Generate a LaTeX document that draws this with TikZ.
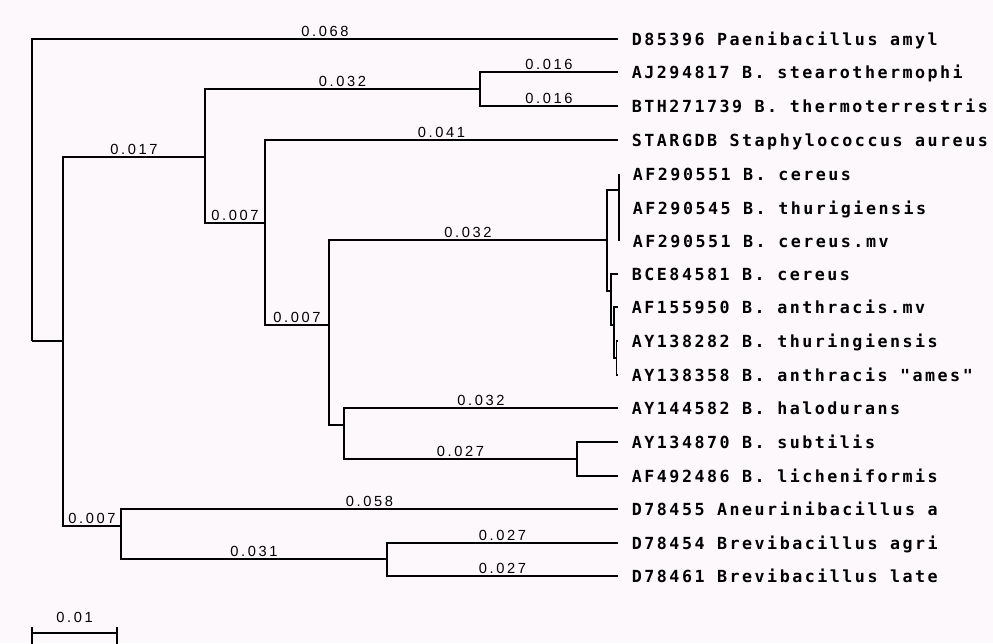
\documentclass[tikz,border=0pt]{standalone}
\usepackage{fontspec}
\setmainfont{Liberation Sans}
\newfontfamily\taxfont{DejaVu Sans Mono Bold}[LetterSpace=15]
\newfontfamily\lenfont{Liberation Sans}[LetterSpace=18]
\definecolor{paper}{RGB}{252,248,252}

\begin{document}
\begin{tikzpicture}[x=0.75pt,y=-0.75pt,line width=1.2pt,
  taxon/.style={anchor=west,inner xsep=9.8pt,inner ysep=0pt,text height=9.1pt,text depth=0pt,
    font={\taxfont\fontsize{12.5}{14}\selectfont}},
  brlen/.style={pos=0.75,above,inner sep=1.5pt,font={\lenfont\fontsize{11}{12}\selectfont}}]
  \path[use as bounding box,fill=paper] (0,0) rectangle (993,643);

  % inner nodes of the tree
  \coordinate (root) at (32,341);
  \coordinate (n1) at (63,341);
  \coordinate (n2) at (205,157);
  \coordinate (n3) at (480,89);
  \coordinate (n4) at (265,223);
  \coordinate (n5) at (329,325);
  \coordinate (n6) at (607,240);
  \coordinate (n7) at (619,190);
  \coordinate (n8) at (611,291);
  \coordinate (n9) at (614,325);
  \coordinate (n10) at (616.5,358);
  \coordinate (n11) at (344,425);
  \coordinate (n12) at (577,459);
  \coordinate (n13) at (121,526);
  \coordinate (n14) at (387,559);

  % taxa
  \node[taxon] (t1) at (618,39) {D85396 Paenibacillus amyl};
  \node[taxon] (t2) at (618,72) {AJ294817 B. stearothermophi};
  \node[taxon] (t3) at (618,106) {BTH271739 B. thermoterrestris};
  \node[taxon] (t4) at (618,140) {STARGDB Staphylococcus aureus};
  \node[taxon] (t5) at (619,174) {AF290551 B. cereus};
  \node[taxon] (t6) at (619,208) {AF290545 B. thurigiensis};
  \node[taxon] (t7) at (619,241) {AF290551 B. cereus.mv};
  \node[taxon] (t8) at (618,274) {BCE84581 B. cereus};
  \node[taxon] (t9) at (618,307) {AF155950 B. anthracis.mv};
  \node[taxon] (t10) at (618,341) {AY138282 B. thuringiensis};
  \node[taxon] (t11) at (618,375) {AY138358 B. anthracis "ames"};
  \node[taxon] (t12) at (618,408) {AY144582 B. halodurans};
  \node[taxon] (t13) at (618,442) {AY134870 B. subtilis};
  \node[taxon] (t14) at (618,476) {AF492486 B. licheniformis};
  \node[taxon] (t15) at (618,509) {D78455 Aneurinibacillus a};
  \node[taxon] (t16) at (618,543) {D78454 Brevibacillus agri};
  \node[taxon] (t17) at (618,576) {D78461 Brevibacillus late};

  % branches
  \draw (root) |- node[brlen] {0.068} (t1);
  \draw (root) |- (n1);
  \draw (n1) |- node[brlen] {0.017} (n2);
  \draw (n1) |- node[brlen] {0.007} (n13);
  \draw (n2) |- node[brlen] {0.032} (n3);
  \draw (n2) |- node[brlen] {0.007} (n4);
  \draw (n3) |- node[brlen] {0.016} (t2);
  \draw (n3) |- node[brlen] {0.016} (t3);
  \draw (n4) |- node[brlen] {0.041} (t4);
  \draw (n4) |- node[brlen] {0.007} (n5);
  \draw (n5) |- node[brlen] {0.032} (n6);
  \draw (n5) |- (n11);
  \draw (n6) |- (n7);
  \draw (n6) |- (n8);
  \draw (n7) |- (t5);
  \draw (n7) |- (t6);
  \draw (n7) |- (t7);
  \draw (n8) |- (t8);
  \draw (n8) |- (n9);
  \draw (n9) |- (t9);
  \draw (n9) |- (n10);
  \draw (n10) |- (t10);
  \draw (n10) |- (t11);
  \draw (n11) |- node[brlen] {0.032} (t12);
  \draw (n11) |- node[brlen] {0.027} (n12);
  \draw (n12) |- (t13);
  \draw (n12) |- (t14);
  \draw (n13) |- node[brlen] {0.058} (t15);
  \draw (n13) |- node[brlen] {0.031} (n14);
  \draw (n14) |- node[brlen] {0.027} (t16);
  \draw (n14) |- node[brlen] {0.027} (t17);

  % scale bar
  \coordinate (s0) at (32,633);
  \coordinate (s1) at (117,633);
  \draw (s0) -- node[brlen,pos=0.5,above=5.5pt] {0.01} (s1);
  \draw (32,627) -- (32,645);
  \draw (117,627) -- (117,645);
\end{tikzpicture}
\end{document}
